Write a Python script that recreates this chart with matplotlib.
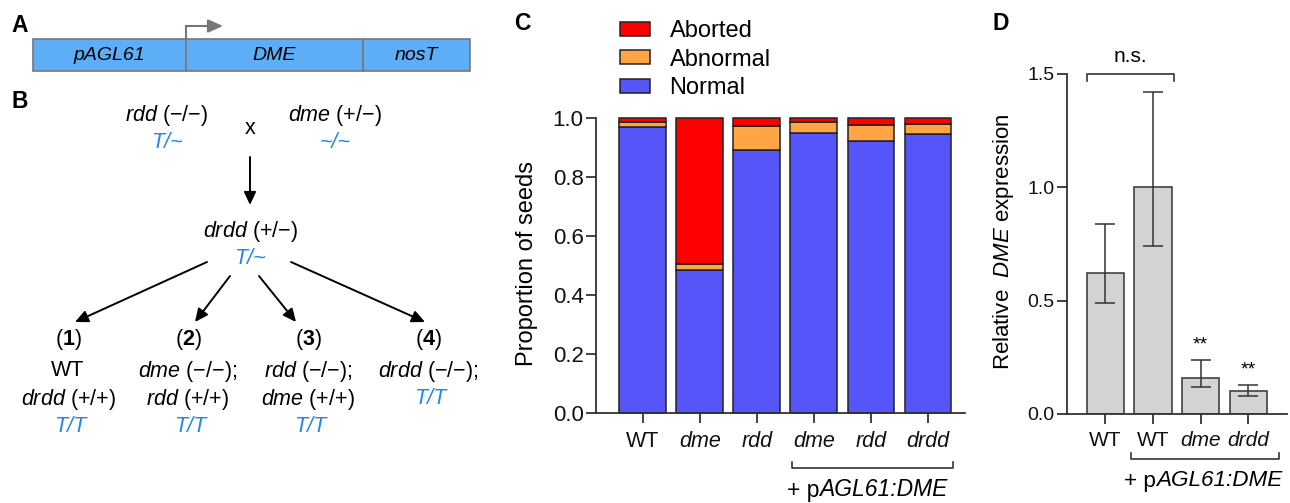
import numpy as np
import matplotlib
matplotlib.use("Agg")
import matplotlib.pyplot as plt
from matplotlib.patches import Rectangle

# Fonts (Arial-like) and italic mathtext
plt.rcParams['font.family'] = ['Liberation Sans', 'DejaVu Sans']
plt.rcParams['mathtext.fontset'] = 'custom'
plt.rcParams['mathtext.rm'] = 'Liberation Sans'
plt.rcParams['mathtext.it'] = 'Liberation Sans:italic'
plt.rcParams['mathtext.bf'] = 'Liberation Sans:bold'

# Panel C data -- seed phenotypes (proportions)
seed_labels = ['WT', 'dme', 'rdd', 'dme', 'rdd', 'drdd']
normal = np.array([0.971, 0.486, 0.893, 0.951, 0.924, 0.945])
abnormal = np.array([0.017, 0.018, 0.082, 0.036, 0.052, 0.034])
aborted = np.array([0.012, 0.496, 0.025, 0.013, 0.024, 0.021])

# Panel D data -- relative DME expression
expr_labels = ['WT', 'WT', 'dme', 'drdd']
expr_mean = np.array([0.62, 1.00, 0.16, 0.10])
expr_low = np.array([0.49, 0.74, 0.12, 0.08])
expr_high = np.array([0.84, 1.42, 0.24, 0.13])
expr_stars = ['', '', '**', '**']

# Colours
c_normal = '#5555fa'
c_abnormal = '#ffa545'
c_aborted = '#ff0000'
c_gray = '#d3d3d3'
c_box = '#5dadf7'
c_blue = '#1e88f0'
c_line = '#333333'

W, H = 1290, 503
fig = plt.figure(figsize=(W / 100, H / 100), dpi=100)

def frac(l, t, r, b):
    return [l / W, 1 - b / H, (r - l) / W, (b - t) / H]

# Overlay axes in pixel coordinates for panels A / B and labels
ax0 = fig.add_axes([0, 0, 1, 1])
ax0.set_xlim(0, W)
ax0.set_ylim(H, 0)
ax0.axis('off')

# Panel letters
for letter, px, py in [('A', 20, 25), ('B', 20, 101), ('C', 522, 23), ('D', 1001, 23)]:
    ax0.text(px, py, letter, fontsize=16.5, fontweight='bold', ha='center', va='center')

# ---------------- Panel A : construct ----------------
segments = [(33, 186, 'pAGL61'), (186, 363, 'DME'), (363, 470, 'nosT')]
for x0, x1, name in segments:
    ax0.add_patch(Rectangle((x0, 39), x1 - x0, 31.5, facecolor=c_box,
                            edgecolor='#777777', lw=1.2))
    ax0.text((x0 + x1) / 2, 55, name, fontsize=14, style='italic',
             ha='center', va='center')
ax0.plot([186, 186, 210], [39, 26, 26], color='#777777', lw=1.5,
         solid_joinstyle='miter')
ax0.annotate('', xy=(223, 26), xytext=(205, 26),
             arrowprops=dict(arrowstyle='-|>,head_length=0.9,head_width=0.4',
                             color='#777777', lw=1.5, shrinkA=0, shrinkB=0))

# ---------------- Panel B : cross scheme ----------------
fs = 15.5
def btext(x, y, s, color='k', italic=False):
    ax0.text(x, y, s, fontsize=fs, ha='center', va='center', color=color,
             style='italic' if italic else 'normal')

btext(167, 115, r'$\mathit{rdd}$ (−/−)')
btext(167, 142, 'T/~', c_blue, True)
btext(250, 129, 'x')
btext(335, 115, r'$\mathit{dme}$ (+/−)')
btext(335, 142, '~/~', c_blue, True)
btext(250, 232, r'$\mathit{drdd}$ (+/−)')
btext(250, 259, 'T/~', c_blue, True)

def arrow(x0, y0, x1, y1):
    ax0.annotate('', xy=(x1, y1), xytext=(x0, y0),
                 arrowprops=dict(arrowstyle='-|>,head_length=0.6,head_width=0.28',
                                 color='k', lw=1.4, shrinkA=0, shrinkB=0,
                                 mutation_scale=13))

arrow(250, 157, 250, 205)
arrow(207, 262, 75, 322)
arrow(230, 276, 195, 322)
arrow(259, 276, 296, 322)
arrow(291, 262, 425, 322)

offspring = [
    (68, [('WT', 'k', False), (r'$\mathit{drdd}$ (+/+)', 'k', False), ('T/T', c_blue, True)]),
    (188, [(r'$\mathit{dme}$ (−/−);', 'k', False), (r'$\mathit{rdd}$ (+/+)', 'k', False), ('T/T', c_blue, True)]),
    (308, [(r'$\mathit{rdd}$ (−/−);', 'k', False), (r'$\mathit{dme}$ (+/+)', 'k', False), ('T/T', c_blue, True)]),
    (428, [(r'$\mathit{drdd}$ (−/−);', 'k', False), ('T/T', c_blue, True)]),
]
for i, (cx, lines) in enumerate(offspring):
    btext(cx, 339, r'($\mathbf{%d}$)' % (i + 1))
    for j, (s, col, it) in enumerate(lines):
        btext(cx + (2 if it else 0), 371 + 28 * j, s, col, it)

# "+ pAGL61:DME" with an upright "p" and italic rest
def construct_label(x_left, y_mid, size):
    t1 = ax0.text(x_left, y_mid, '+ p', fontsize=size, ha='left', va='center')
    ax0.annotate('AGL61:DME', xy=(1, 0), xycoords=t1, ha='left', va='bottom',
                 fontsize=size, style='italic')

# ---------------- Panel C : seed phenotypes ----------------
axC = fig.add_axes(frac(596, 118.3, 965, 412.8))
x = np.arange(len(seed_labels))
bw = 0.82
kw = dict(width=bw, edgecolor='#222222', linewidth=1.1, clip_on=False)
bN = axC.bar(x, normal, color=c_normal, label='Normal', **kw)
bA = axC.bar(x, abnormal, bottom=normal, color=c_abnormal, label='Abnormal', **kw)
bX = axC.bar(x, aborted, bottom=normal + abnormal, color=c_aborted, label='Aborted', **kw)
axC.set_ylim(0, 1.0)
axC.set_xlim(-0.82, 5.65)
axC.set_yticks(np.arange(0, 1.01, 0.2))
axC.set_yticklabels(['%.1f' % v for v in np.arange(0, 1.01, 0.2)])
axC.set_xticks(x)
axC.set_xticklabels(seed_labels)
for lab in axC.get_xticklabels():
    if lab.get_text() != 'WT':
        lab.set_fontstyle('italic')
axC.tick_params(axis='y', direction='out', length=7, width=1.3, labelsize=16, pad=2)
axC.tick_params(axis='x', direction='out', length=7, width=1.3, labelsize=15.5, pad=6)
for s in ['top', 'right']:
    axC.spines[s].set_visible(False)
for s in ['left', 'bottom']:
    axC.spines[s].set_linewidth(1.3)
    axC.spines[s].set_color(c_line)
axC.tick_params(colors=c_line, labelcolor='#111111')
ax0.text(527, 264, 'Proportion of seeds', fontsize=17, rotation=90,
         ha='center', va='center')

axC.legend([bX, bA, bN], ['Aborted', 'Abnormal', 'Normal'], loc='upper left',
           bbox_to_anchor=(620 / W, 1 - 20 / H), bbox_transform=fig.transFigure,
           frameon=False, fontsize=17, handlelength=1.25, handleheight=0.55,
           handletextpad=0.85, labelspacing=0.28, borderpad=0, borderaxespad=0)

tr = axC.get_xaxis_transform()
axC.plot([2.62, 2.62, 5.44, 5.44], [-0.168, -0.187, -0.187, -0.168], color=c_line,
         lw=1.2, transform=tr, clip_on=False)
construct_label(787, 490, 16.5)

# ---------------- Panel D : DME expression ----------------
axD = fig.add_axes(frac(1067, 74, 1287, 414))
x4 = np.arange(len(expr_labels))
axD.bar(x4, expr_mean, width=0.78, color=c_gray, edgecolor=c_line, linewidth=1.1)
axD.errorbar(x4, expr_mean, yerr=[expr_mean - expr_low, expr_high - expr_mean],
             fmt='none', ecolor=c_line, elinewidth=1.1, capsize=7.5, capthick=1.1)
axD.set_ylim(0, 1.5)
axD.set_xlim(-0.81, 3.82)
axD.set_yticks([0, 0.5, 1.0, 1.5])
axD.set_yticklabels(['0.0', '0.5', '1.0', '1.5'])
axD.set_xticks(x4)
axD.set_xticklabels(expr_labels)
for lab in axD.get_xticklabels():
    if lab.get_text() != 'WT':
        lab.set_fontstyle('italic')
axD.tick_params(axis='y', direction='out', length=7, width=1.3, labelsize=14, pad=2)
axD.tick_params(axis='x', direction='out', length=7, width=1.3, labelsize=15, pad=5)
for s in ['top', 'right']:
    axD.spines[s].set_visible(False)
for s in ['left', 'bottom']:
    axD.spines[s].set_linewidth(1.3)
    axD.spines[s].set_color(c_line)
axD.tick_params(colors=c_line, labelcolor='#111111')
ax0.text(1003, 242, r'Relative  $\mathit{DME}$ expression', fontsize=16,
         rotation=90, ha='center', va='center')

for i, st in enumerate(expr_stars):
    if st:
        axD.text(i, expr_high[i] + 0.065, st, ha='center', va='center', fontsize=14)

axD.plot([-0.39, -0.39, 1.44, 1.44], [1.47, 1.5, 1.5, 1.47], color=c_line, lw=1.2,
         clip_on=False)
axD.text(0.53, 1.575, 'n.s.', ha='center', va='center', fontsize=15)

trD = axD.get_xaxis_transform()
axD.plot([0.54, 0.54, 3.65, 3.65], [-0.115, -0.132, -0.132, -0.115], color=c_line,
         lw=1.2, transform=trD, clip_on=False)
construct_label(1124, 481, 16.2)

fig.savefig('out.png', dpi=100)
